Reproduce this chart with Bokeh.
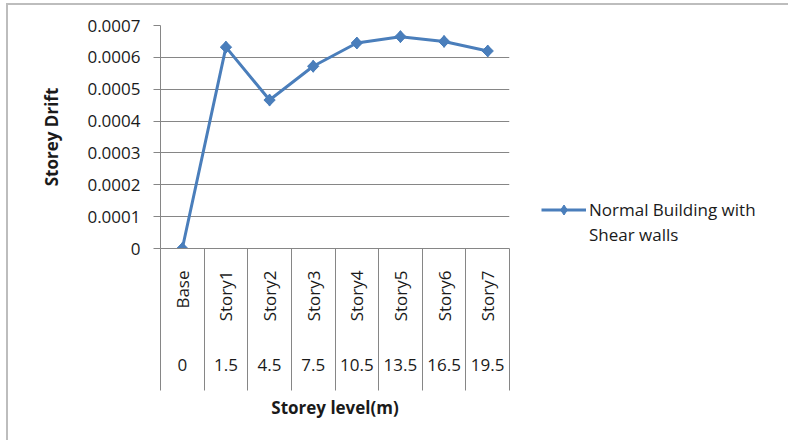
from math import pi
from bokeh.plotting import figure
from bokeh.models import Range1d, LinearAxis, FixedTicker, Legend, LegendItem
from bokeh.embed import file_html
from bokeh.resources import INLINE

stories = ["Base", "Story1", "Story2", "Story3", "Story4", "Story5", "Story6", "Story7"]
levels = ["0", "1.5", "4.5", "7.5", "10.5", "13.5", "16.5", "19.5"]
drift = [0.0, 0.000632, 0.000466, 0.000572, 0.000645, 0.000665, 0.000650, 0.000620]
y_tick_labels = ["0", "0.0001", "0.0002", "0.0003", "0.0004", "0.0005", "0.0006", "0.0007"]
legend_lines = ["Normal Building with", "Shear walls"]
x_title = "Storey level(m)"
y_title = "Storey Drift"

FONT = "Open Sans"
TXT = "#1a1a1a"
GRID = "#868686"
BLUE = "#4A7EBB"
FS = "17px"

n = len(stories)
centers = [i + 0.5 for i in range(n)]
bounds = [float(i) for i in range(n + 1)]
y_ticks = [float(s) for s in y_tick_labels]

p = figure(frame_width=349, frame_height=223, x_range=Range1d(0, n),
           y_range=Range1d(y_ticks[0], y_ticks[-1]),
           output_backend="svg", toolbar_location=None, x_axis_location=None,
           min_border_left=152, min_border_right=279, min_border_top=20, min_border_bottom=192)
p.styles = {"margin-top": "3px", "margin-left": "6px",
            "border-top": "2px solid #bdbdbd", "border-left": "2px solid #bdbdbd"}
p.outline_line_color = None
p.background_fill_color = "white"
p.border_fill_color = "white"

for g in p.grid:
    if g.dimension == 0:
        g.visible = False
    else:
        g.grid_line_color = GRID
        g.grid_line_width = 1
        g.ticker = FixedTicker(ticks=y_ticks)

ya = p.yaxis[0]
ya.ticker = FixedTicker(ticks=y_ticks)
ya.major_label_overrides = dict(zip(y_ticks, y_tick_labels))
ya.axis_line_color = GRID
ya.major_tick_line_color = GRID
ya.major_tick_out = 7
ya.major_tick_in = 0
ya.minor_tick_out = 0
ya.minor_tick_in = 0
ya.major_label_standoff = 13
ya.major_label_text_font = FONT
ya.major_label_text_font_size = FS
ya.major_label_text_color = TXT
ya.axis_label = y_title
ya.axis_label_text_font = FONT
ya.axis_label_text_font_style = "bold"
ya.axis_label_text_font_size = FS
ya.axis_label_text_color = TXT
ya.axis_label_standoff = 21

common = dict(major_label_text_font=FONT, major_label_text_font_size=FS,
              major_label_text_color=TXT, major_tick_out=0, major_tick_in=0)

# level 1: storey names (vertical)
ax1 = LinearAxis(ticker=FixedTicker(ticks=centers),
                 major_label_overrides=dict(zip(centers, stories)),
                 major_label_orientation=pi / 2,
                 minor_tick_in=0, minor_tick_out=0,
                 axis_line_color=GRID, major_label_standoff=22, **common)
p.add_layout(ax1, "below")

# level 2: storey heights
ax2 = LinearAxis(ticker=FixedTicker(ticks=centers),
                 major_label_overrides=dict(zip(centers, levels)),
                 minor_tick_in=0, minor_tick_out=0,
                 axis_line_color=None, major_label_standoff=34, **common)
p.add_layout(ax2, "below")

# separators between categories + axis title
ax3 = LinearAxis(ticker=FixedTicker(ticks=[], minor_ticks=bounds),
                 minor_tick_in=125, minor_tick_out=17, minor_tick_line_color=GRID,
                 axis_line_color=None,
                 axis_label=x_title, axis_label_standoff=5,
                 axis_label_text_font=FONT, axis_label_text_font_style="bold",
                 axis_label_text_font_size=FS, axis_label_text_color=TXT, **common)
p.add_layout(ax3, "below")

ln = p.line(centers, drift, line_color=BLUE, line_width=3)
dm = p.scatter(centers, drift, marker="diamond", size=12, fill_color=BLUE, line_color=BLUE)
sc = p.scatter(centers, drift, marker="square", angle=pi / 4, size=8,
               fill_color=BLUE, line_color=BLUE)
blank = p.line([], [], line_alpha=0)

legend = Legend(items=[LegendItem(label=legend_lines[0], renderers=[ln, dm]),
                       LegendItem(label=legend_lines[1], renderers=[blank])],
                location=(32, 1), background_fill_alpha=0, border_line_color=None,
                glyph_width=45, glyph_height=25, label_height=25, spacing=0,
                label_standoff=3, padding=0, margin=0,
                label_text_font=FONT, label_text_font_size=FS, label_text_color=TXT)
p.add_layout(legend, "right")

open("out.html", "w").write(file_html(p, INLINE))
